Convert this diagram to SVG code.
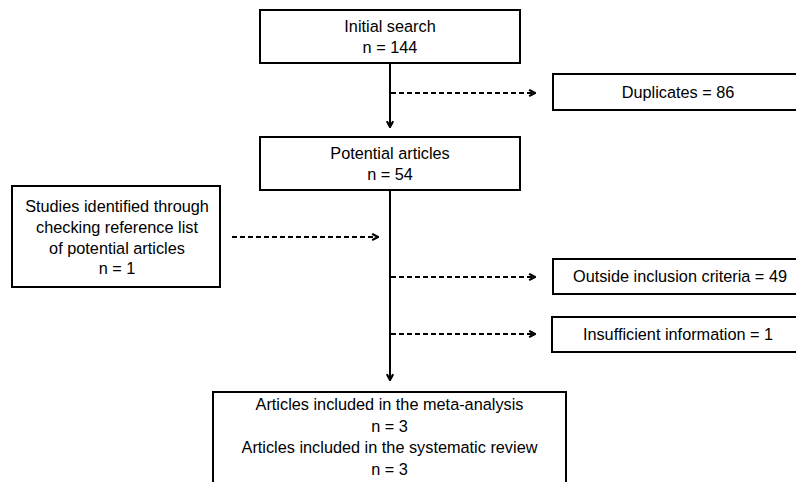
<svg xmlns="http://www.w3.org/2000/svg" width="796" height="482" viewBox="0 0 796 482">
<style>
.box{fill:#fff;stroke:#000;stroke-width:2}
text{font-family:"Liberation Sans",Arial,sans-serif;font-size:16.3px;fill:#000;text-anchor:middle}
.solid{stroke:#000;stroke-width:2;fill:none}
.dash{stroke:#000;stroke-width:2;fill:none;stroke-dasharray:5 3}
</style>
<defs>
<marker id="ah" viewBox="0 0 10 10" refX="8.5" refY="5" markerWidth="9" markerHeight="9" orient="auto" markerUnits="userSpaceOnUse">
<path d="M2,1.5 L8.5,5 L2,8.5" fill="none" stroke="#000" stroke-width="2.4"/>
</marker>
</defs>
<rect width="796" height="482" fill="#fff"/>
<g id="connectors">
<line class="solid" x1="390" y1="63" x2="390" y2="127" marker-end="url(#ah)"/>
<line class="solid" x1="390" y1="190" x2="390" y2="380" marker-end="url(#ah)"/>
<line class="dash" x1="391" y1="93" x2="535" y2="93" marker-end="url(#ah)"/>
<line class="dash" x1="232" y1="237" x2="378" y2="237" marker-end="url(#ah)"/>
<line class="dash" x1="391" y1="277" x2="535" y2="277" marker-end="url(#ah)"/>
<line class="dash" x1="391" y1="334" x2="535" y2="334" marker-end="url(#ah)"/>
</g>
<g id="initial">
<rect class="box" x="260" y="10" width="260" height="53"/>
<text x="390" y="32">Initial search</text>
<text x="390" y="53">n = 144</text>
</g>
<g id="duplicates">
<rect class="box" x="553" y="74" width="260" height="36"/>
<text x="678" y="98">Duplicates = 86</text>
</g>
<g id="potential">
<rect class="box" x="260" y="137" width="260" height="53"/>
<text x="390" y="159">Potential articles</text>
<text x="390" y="180">n = 54</text>
</g>
<g id="studies">
<rect class="box" x="12" y="186" width="208" height="101"/>
<text x="117" y="212">Studies identified through</text>
<text x="117" y="233">checking reference list</text>
<text x="117" y="254">of potential articles</text>
<text x="117" y="274">n = 1</text>
</g>
<g id="outside">
<rect class="box" x="553" y="259" width="260" height="35"/>
<text x="680" y="282">Outside inclusion criteria = 49</text>
</g>
<g id="insufficient">
<rect class="box" x="552" y="317" width="260" height="35"/>
<text x="678" y="340">Insufficient information = 1</text>
</g>
<g id="included">
<rect class="box" x="213" y="392" width="353" height="100"/>
<text x="389.5" y="410">Articles included in the meta-analysis</text>
<text x="389.5" y="432">n = 3</text>
<text x="389.5" y="453">Articles included in the systematic review</text>
<text x="389.5" y="475">n = 3</text>
</g>
</svg>
